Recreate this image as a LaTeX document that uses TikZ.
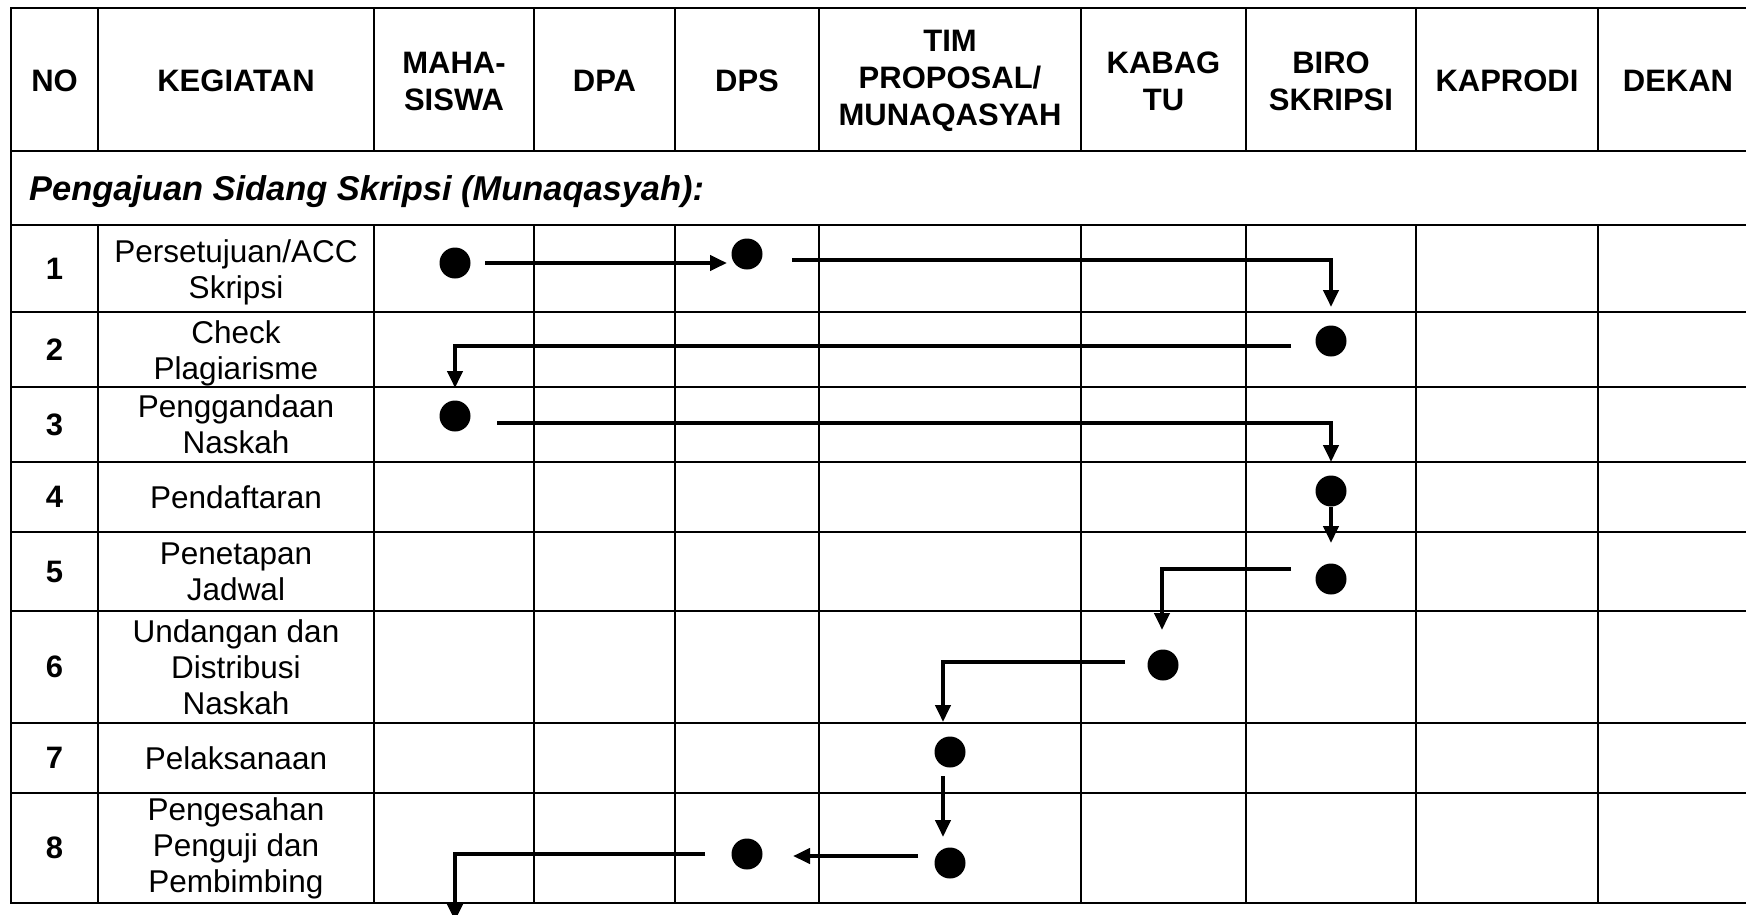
\documentclass[tikz,border=0pt]{standalone}
\usepackage{fontspec}
\setmainfont{Liberation Sans}
\usetikzlibrary{arrows.meta}
\begin{document}
\begin{tikzpicture}[x=1pt,y=-1pt,
  grid/.style={line width=2pt,line cap=rect},
  flow/.style={line width=4pt,-{Triangle[width=15pt,length=17pt]}},
  dot/.style={circle,fill=black,draw=none,minimum size=31pt,inner sep=0pt},
  hdr/.style={font=\bfseries\fontsize{31}{37}\selectfont,align=center,inner sep=0pt},
  num/.style={font=\bfseries\fontsize{31}{36}\selectfont,inner sep=0pt},
  txt/.style={font=\fontsize{31.5}{36}\selectfont,align=center,inner sep=0pt},
  sect/.style={font=\bfseries\itshape\fontsize{34.4}{40}\selectfont,anchor=base west,inner sep=0pt}
]
\useasboundingbox (0,0) rectangle (1746,914);
\fill[white] (0,0) rectangle (1746,914);

% table grid
\foreach \y in {8,151,225,312,387,462,532,611,723,793,903}
  \draw[grid] (11,\y) -- (1775,\y);
\draw[grid] (11,8) -- (11,903);
\foreach \x in {98,374,534,675,819,1081,1246,1416,1598} {
  \draw[grid] (\x,8) -- (\x,151);
  \draw[grid] (\x,225) -- (\x,903);
}

% header
\node[hdr] (hno)  at (54.5,81) {NO};
\node[hdr] (hkeg) at (236,81) {KEGIATAN};
\node[hdr] (hmhs) at (454,81) {MAHA-\\SISWA};
\node[hdr] (hdpa) at (604.5,81) {DPA};
\node[hdr] (hdps) at (747,81) {DPS};
\node[hdr] (htim) at (950,81) {TIM\\PROPOSAL/\\MUNAQASYAH};
\node[hdr] (hkab) at (1163.5,81) {KABAG\\TU};
\node[hdr] (hbir) at (1331,81) {BIRO\\SKRIPSI};
\node[hdr] (hkap) at (1507,81) {KAPRODI};
\node[hdr] (hdek) at (1678,81) {DEKAN};

% section title
\node[sect] (sec) at (29,200) {Pengajuan Sidang Skripsi (Munaqasyah):};

% numbers and activities
\node[num] (n1) at (54.5,268.5) {1};
\node[txt] (k1) at (236,272) {Persetujuan/ACC\\Skripsi};
\node[num] (n2) at (54.5,349.5) {2};
\node[txt] (k2) at (236,353) {Check\\Plagiarisme};
\node[num] (n3) at (54.5,424.5) {3};
\node[txt] (k3) at (236,424.5) {Penggandaan\\Naskah};
\node[num] (n4) at (54.5,497) {4};
\node[txt] (k4) at (236,497) {Pendaftaran};
\node[num] (n5) at (54.5,571.5) {5};
\node[txt] (k5) at (236,571.5) {Penetapan\\Jadwal};
\node[num] (n6) at (54.5,667) {6};
\node[txt] (k6) at (236,667) {Undangan dan\\Distribusi\\Naskah};
\node[num] (n7) at (54.5,758) {7};
\node[txt] (k7) at (236,758) {Pelaksanaan};
\node[num] (n8) at (54.5,848) {8};
\node[txt] (k8) at (236,848) {Pengesahan\\Penguji dan\\Pembimbing};

% dots
\node[dot] (m1) at (455,263) {};
\node[dot] (s1) at (747,254) {};
\node[dot] (b2) at (1331,341) {};
\node[dot] (m3) at (455,416) {};
\node[dot] (b4) at (1331,491) {};
\node[dot] (b5) at (1331,579) {};
\node[dot] (k6d) at (1163,665) {};
\node[dot] (t7) at (950,752) {};
\node[dot] (t8) at (950,863) {};
\node[dot] (s8) at (747,854) {};

% connector ends
\coordinate (a1s) at (485,263);  \coordinate (a1e) at (727,263);
\coordinate (a2s) at (792,260);  \coordinate (a2e) at (1331,307);
\coordinate (a3s) at (1291,346); \coordinate (a3e) at (455,388);
\coordinate (a4s) at (497,423);  \coordinate (a4e) at (1331,462);
\coordinate (a5e) at (1331,543);
\coordinate (a6s) at (1291,569); \coordinate (a6e) at (1162,630);
\coordinate (a7s) at (1125,662); \coordinate (a7e) at (943,722);
\coordinate (a8s) at (943,776);  \coordinate (a8e) at (943,837);
\coordinate (a9s) at (918,856);  \coordinate (a9e) at (793,856);
\coordinate (a10s) at (705,854); \coordinate (a10e) at (455,921);

% connectors
\draw[flow] (a1s) -- (a1e);
\draw[flow] (a2s) -| (a2e);
\draw[flow] (a3s) -| (a3e);
\draw[flow] (a4s) -| (a4e);
\draw[flow] (b4.south) -- (a5e);
\draw[flow] (a6s) -| (a6e);
\draw[flow] (a7s) -| (a7e);
\draw[flow] (a8s) -- (a8e);
\draw[flow] (a9s) -- (a9e);
\draw[flow] (a10s) -| (a10e);
\end{tikzpicture}
\end{document}
